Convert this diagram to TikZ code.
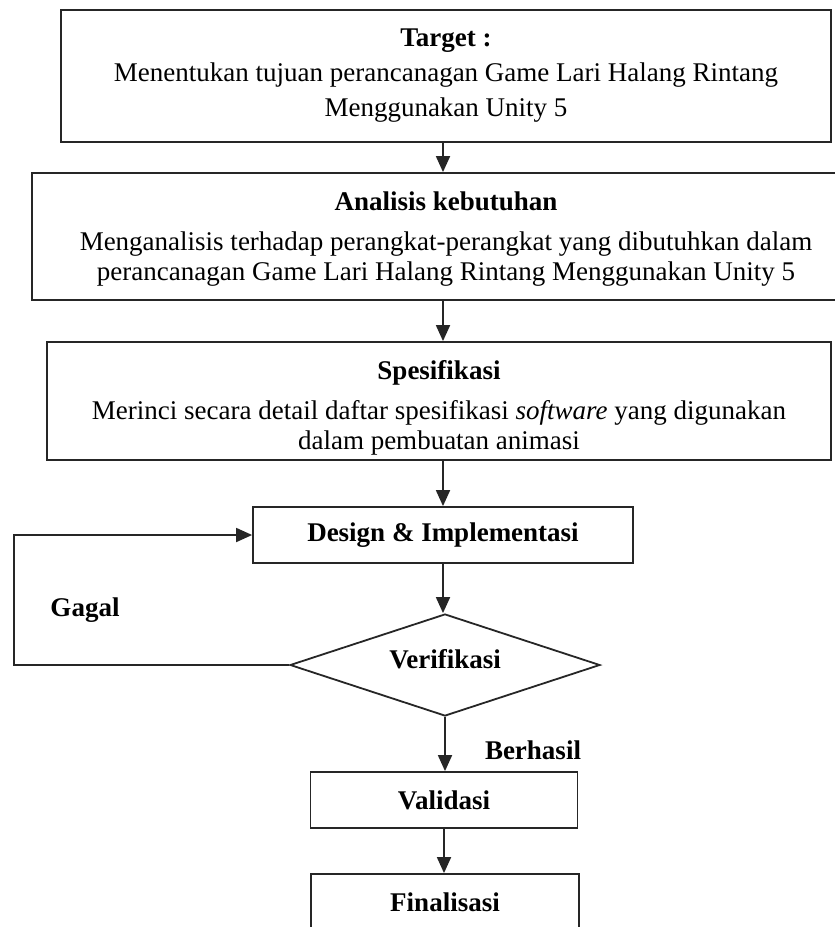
\documentclass[tikz,border=0pt]{standalone}
\usepackage{fontspec}
\setmainfont{Liberation Serif}
\usetikzlibrary{shapes.geometric, positioning, arrows.meta}

\begin{document}
\begin{tikzpicture}[
        x=0.5pt, y=-0.5pt,
        line width=0.9pt,
        font=\fontsize{13.5pt}{15pt}\selectfont,
        % Styles for the flowchart parts
        process/.style={
            rectangle, draw=black!85, fill=white,
            inner sep=0pt, align=center
        },
        decision/.style={
            diamond, draw=black!85, fill=white,
            aspect=3, inner sep=0pt,
            minimum width=155pt, minimum height=51pt,
            font=\fontsize{13.5pt}{15pt}\selectfont\bfseries
        },
        flow/.style={
            draw=black!85, -{Triangle[length=8pt, width=7pt]}
        },
        tag/.style={
            font=\fontsize{13.5pt}{15pt}\selectfont\bfseries
        }
    ]

    \clip (0,0) rectangle (835,927);

    % 1. TARGET
    \node[process, minimum width=385pt, minimum height=66pt] (Target) at (446,76)
        {\textbf{Target :}\\[2.5pt]
         Menentukan tujuan perancanagan Game Lari Halang Rintang\\[2.5pt]
         Menggunakan Unity 5};

    % 2. ANALISIS KEBUTUHAN (wider than the page on the right)
    \node[process, minimum width=414pt, minimum height=63.5pt] (Analisis) at (446,236.5)
        {\rule{0pt}{12pt}\textbf{Analisis kebutuhan}\\[5pt]
         Menganalisis terhadap perangkat-perangkat yang dibutuhkan dalam\\
         perancanagan Game Lari Halang Rintang Menggunakan Unity 5};

    % 3. SPESIFIKASI
    \node[process, minimum width=392pt, minimum height=59pt] (Spesifikasi) at (439,401)
        {\rule{0pt}{16pt}\textbf{Spesifikasi}\\[5pt]
         Merinci secara detail daftar spesifikasi \textit{software} yang digunakan\\
         dalam pembuatan animasi};

    % 4. DESIGN, VERIFIKASI, VALIDASI, FINALISASI
    \node[process, minimum width=190pt, minimum height=28pt] (Design) at (443,535)
        {\textbf{Design \& Implementasi}};
    \node[decision, text depth=6pt] (Verif) at (445,665) {Verifikasi};
    \node[process, minimum width=133.5pt, minimum height=28pt] (Validasi) at (444,800)
        {\textbf{Validasi}};
    \node[process, minimum width=134pt, minimum height=28pt] (Final) at (445,902)
        {\textbf{Finalisasi}};

    % Main flow downwards
    \draw[flow] (Target.south -| Design.north) -- (Analisis.north -| Design.north);
    \draw[flow] (Analisis.south -| Design.north) -- (Spesifikasi.north -| Design.north);
    \draw[flow] (Spesifikasi.south -| Design.north) -- (Design.north);
    \draw[flow] (Design.south) -- (Design.south |- Verif.north);
    \draw[flow] (Verif.south) -- (Verif.south |- Validasi.north);
    \draw[flow] (Validasi.south) -- (Validasi.south |- Final.north);

    % 5. LOOP BACK WHEN VERIFIKASI FAILS
    \coordinate (loop) at (14,665);
    \draw[flow] (Verif.west) -- (loop) |- (Design.west);

    \node[tag] (gagal) at (85,610) {Gagal};
    \node[tag] (berhasil) at (533,750) {Berhasil};

\end{tikzpicture}
\end{document}
